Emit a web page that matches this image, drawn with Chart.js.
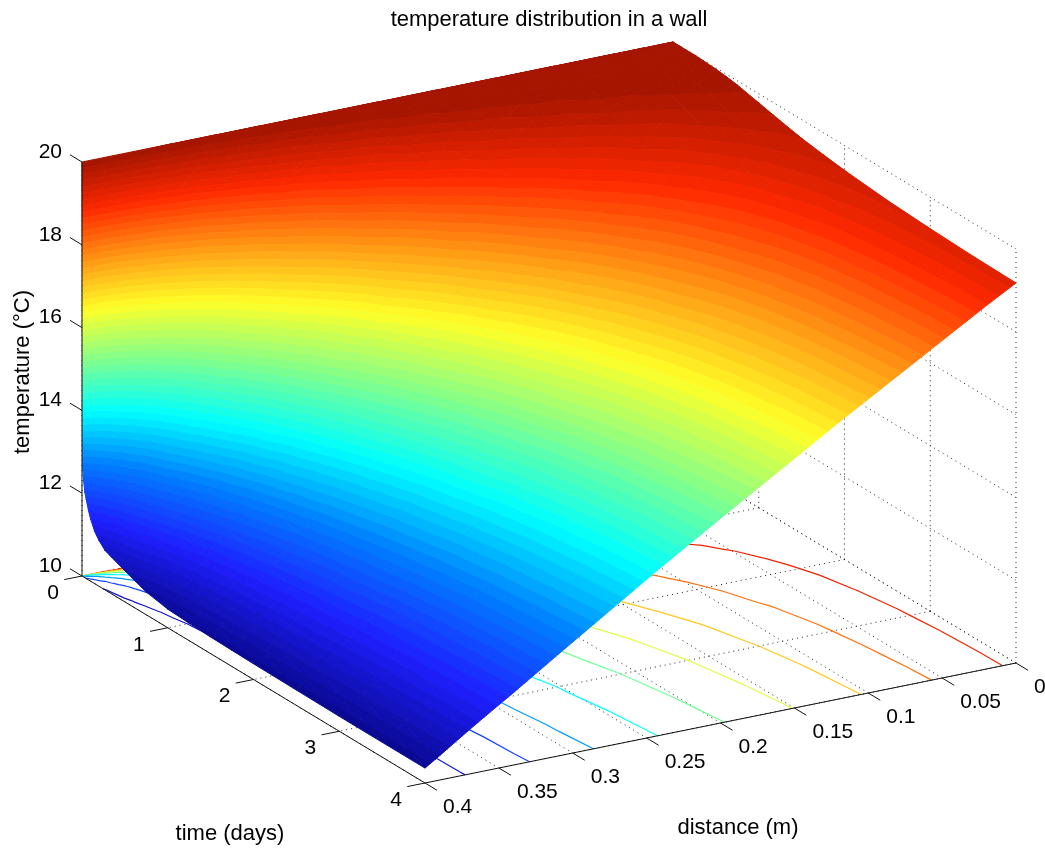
<!DOCTYPE html>
<html>
<head>
<meta charset="utf-8">
<title>temperature distribution in a wall</title>
<script src="https://cdn.jsdelivr.net/npm/chart.js@4/dist/chart.umd.js"></script>
<style>
  html, body { margin: 0; padding: 0; background: #fff; }
  canvas { display: block; }
</style>
</head>
<body>
<canvas id="wall-chart" width="1045" height="848"></canvas>
<script>
// Values
const distances = [0, 0.02, 0.04, 0.08, 0.12, 0.16, 0.2, 0.24, 0.28, 0.31, 0.34, 0.36, 0.375, 0.385, 0.393, 0.4];
const times = [0, 0.005, 0.01, 0.02, 0.035, 0.05, 0.075, 0.1, 0.15, 0.2, 0.27, 0.35, 0.5, 0.625, 0.75, 1, 1.25, 1.5, 1.75, 2, 2.5, 3, 3.5, 4];

// One row per time, one column per distance
const temperatures = [
    [20, 20, 20, 20, 20, 20, 20, 20, 20, 20, 20, 20, 20, 20, 20, 20],
    [20, 20, 20, 20, 20, 20, 20, 20, 20, 20, 20, 19.99, 19.64, 18.33, 16.0, 13.2],
    [20, 20, 20, 20, 20, 20, 20, 20, 20, 20, 19.99, 19.79, 18.73, 16.96, 14.81, 12.6],
    [20, 20, 20, 20, 20, 20, 20, 20, 20, 20, 19.85, 19.07, 17.44, 15.68, 13.95, 12.3],
    [20, 20, 20, 20, 20, 20, 20, 20, 20, 19.93, 19.37, 18.08, 16.31, 14.75, 13.34, 12.05],
    [20, 20, 20, 20, 20, 20, 20, 20, 19.97, 19.77, 18.85, 17.33, 15.6, 14.19, 12.96, 11.9],
    [20, 20, 20, 20, 20, 20, 20, 19.99, 19.87, 19.4, 18.09, 16.47, 14.87, 13.64, 12.6, 11.68],
    [20, 20, 20, 20, 20, 20, 20, 19.95, 19.68, 18.99, 17.49, 15.88, 14.38, 13.28, 12.37, 11.5],
    [20, 20, 20, 20, 20, 19.99, 19.96, 19.79, 19.21, 18.22, 16.53, 15.0, 13.67, 12.72, 11.94, 11.25],
    [20, 20, 20, 20, 19.99, 19.97, 19.87, 19.56, 18.75, 17.61, 15.91, 14.48, 13.28, 12.44, 11.76, 11.1],
    [20, 20, 20, 19.99, 19.97, 19.9, 19.68, 19.17, 18.14, 16.89, 15.23, 13.91, 12.83, 12.09, 11.48, 10.95],
    [19.99, 19.99, 19.99, 19.97, 19.91, 19.76, 19.42, 18.74, 17.57, 16.32, 14.73, 13.53, 12.57, 11.9, 11.37, 10.88],
    [19.97, 19.96, 19.95, 19.88, 19.72, 19.42, 18.88, 18.01, 16.73, 15.5, 14.06, 13.0, 12.17, 11.6, 11.15, 10.75],
    [19.94, 19.92, 19.89, 19.75, 19.51, 19.1, 18.45, 17.5, 16.21, 15.01, 13.67, 12.69, 11.94, 11.43, 11.01, 10.65],
    [19.9, 19.86, 19.79, 19.59, 19.27, 18.78, 18.06, 17.06, 15.77, 14.62, 13.34, 12.44, 11.74, 11.26, 10.88, 10.55],
    [19.78, 19.7, 19.58, 19.26, 18.81, 18.2, 17.39, 16.37, 15.12, 14.06, 12.91, 12.11, 11.49, 11.08, 10.74, 10.45],
    [19.66, 19.53, 19.36, 18.93, 18.4, 17.72, 16.87, 15.85, 14.67, 13.69, 12.64, 11.91, 11.35, 10.99, 10.68, 10.42],
    [19.55, 19.38, 19.16, 18.65, 18.05, 17.31, 16.45, 15.46, 14.33, 13.4, 12.43, 11.76, 11.26, 10.92, 10.64, 10.4],
    [19.47, 19.26, 18.99, 18.42, 17.75, 17.0, 16.13, 15.14, 14.06, 13.2, 12.28, 11.65, 11.19, 10.87, 10.61, 10.39],
    [19.4, 19.15, 18.86, 18.22, 17.52, 16.73, 15.86, 14.9, 13.85, 13.02, 12.16, 11.57, 11.13, 10.83, 10.59, 10.38],
    [19.3, 18.99, 18.64, 17.92, 17.15, 16.34, 15.47, 14.53, 13.55, 12.78, 11.98, 11.45, 11.05, 10.78, 10.56, 10.37],
    [19.24, 18.89, 18.51, 17.73, 16.92, 16.08, 15.21, 14.3, 13.35, 12.62, 11.87, 11.38, 11.0, 10.74, 10.53, 10.36],
    [19.2, 18.82, 18.42, 17.61, 16.77, 15.92, 15.05, 14.15, 13.23, 12.52, 11.8, 11.33, 10.97, 10.72, 10.53, 10.36],
    [19.18, 18.78, 18.36, 17.52, 16.68, 15.81, 14.94, 14.06, 13.14, 12.45, 11.75, 11.3, 10.95, 10.71, 10.52, 10.36]
];

// Axis ticks and the levels of the contour lines on the floor
const timeTicks = [0, 1, 2, 3, 4];
const distanceTicks = [0, 0.05, 0.1, 0.15, 0.2, 0.25, 0.3, 0.35, 0.4];
const distanceTickLabels = ['0', '0.05', '0.1', '0.15', '0.2', '0.25', '0.3', '0.35', '0.4'];
const tempTicks = [10, 12, 14, 16, 18, 20];
const contourLevels = [11, 12, 13, 14, 15, 16, 17, 18, 19];

const titleText = 'temperature distribution in a wall';
const timeLabel = 'time (days)';
const distanceLabel = 'distance (m)';
const tempLabel = 'temperature (\u00b0C)';

// Colour limits and number of colours of the colormap
const colorMin = 10.3;
const colorMax = 20;
const colorCount = 64;

// Colormap as it looks in the picture, evenly spaced from low to high
const colorStops = [
    [8, 8, 140], [30, 30, 255], [0, 125, 255], [0, 255, 255], [130, 255, 140],
    [255, 255, 40], [255, 150, 20], [255, 40, 0], [160, 20, 0]
];

const floorTemp = 10;
const maxTime = 4;
const maxDistance = 0.4;

// Fixed view of the box: time runs down to the right, distance runs down to the left
function project(time, distance, temp) {
    const u = time / maxTime;
    const v = distance / maxDistance;
    return {
        x: 673 + 343 * u - 591 * v,
        y: 456 + 207 * u + 120 * v - 41.4 * (temp - floorTemp)
    };
}

function colormap(f) {
    const pos = Math.max(0, Math.min(1, f)) * (colorStops.length - 1);
    const i = Math.min(Math.floor(pos), colorStops.length - 2);
    const k = pos - i;
    const part = (c) => Math.round(colorStops[i][c] + (colorStops[i + 1][c] - colorStops[i][c]) * k);
    return `rgb(${part(0)}, ${part(1)}, ${part(2)})`;
}

function levelColor(index) {
    return colormap((index + 0.5) / colorCount);
}

// Corners of a mesh cell, split in two triangles
function meshTriangles() {
    const triangles = [];
    for (let i = 0; i < times.length - 1; i++) {
        for (let j = 0; j < distances.length - 1; j++) {
            const corner = (a, b) => {
                const p = project(times[a], distances[b], temperatures[a][b]);
                return { x: p.x, y: p.y, temp: temperatures[a][b], floor: project(times[a], distances[b], floorTemp) };
            };
            const p00 = corner(i, j);
            const p01 = corner(i, j + 1);
            const p10 = corner(i + 1, j);
            const p11 = corner(i + 1, j + 1);
            triangles.push([p00, p01, p11], [p00, p11, p10]);
        }
    }
    return triangles;
}

function mix(a, b, level) {
    const k = (level - a.temp) / (b.temp - a.temp);
    return {
        x: a.x + (b.x - a.x) * k,
        y: a.y + (b.y - a.y) * k,
        temp: level,
        floor: {
            x: a.floor.x + (b.floor.x - a.floor.x) * k,
            y: a.floor.y + (b.floor.y - a.floor.y) * k
        }
    };
}

// Keep the part of a polygon on one side of a temperature level
function clipPolygon(polygon, level, keepAbove) {
    const inside = (p) => keepAbove ? p.temp >= level : p.temp <= level;
    const result = [];
    polygon.forEach((p, i) => {
        const next = polygon[(i + 1) % polygon.length];
        if (inside(p)) result.push(p);
        if (inside(p) !== inside(next)) result.push(mix(p, next, level));
    });
    return result;
}

// Filled colour bands of the surface, one dataset for each colour
function surfaceDatasets(triangles) {
    const step = (colorMax - colorMin) / colorCount;
    const bands = [];
    for (let index = 0; index < colorCount; index++) {
        const low = index === 0 ? -Infinity : colorMin + index * step;
        const high = index === colorCount - 1 ? Infinity : colorMin + (index + 1) * step;
        const data = [];
        triangles.forEach((triangle) => {
            let polygon = clipPolygon(triangle, low, true);
            if (polygon.length) polygon = clipPolygon(polygon, high, false);
            if (polygon.length < 3) return;
            polygon.forEach((p) => data.push({ x: p.x, y: p.y }));
            data.push({ x: polygon[0].x, y: polygon[0].y });
            data.push({ x: null, y: null });
        });
        bands.push({
            data: data,
            showLine: true,
            fill: 'shape',
            backgroundColor: levelColor(index),
            borderColor: levelColor(index),
            borderWidth: 1,
            borderDash: [10000, 0],
            pointRadius: 0,
            order: 1
        });
    }
    return bands;
}

// Contour lines drawn on the floor of the box
function contourDatasets(triangles) {
    return contourLevels.map((level) => {
        const data = [];
        triangles.forEach((triangle) => {
            const crossings = [];
            triangle.forEach((p, i) => {
                const next = triangle[(i + 1) % 3];
                if ((p.temp < level) !== (next.temp < level)) crossings.push(mix(p, next, level).floor);
            });
            if (crossings.length === 2) data.push(crossings[0], crossings[1], { x: null, y: null });
        });
        const color = colormap((level - colorMin) / (colorMax - colorMin));
        return { data: data, showLine: true, fill: false, borderColor: color, borderWidth: 1.2, pointRadius: 0, order: 2 };
    });
}

// Helper for a set of separate straight lines
function linesDataset(lines, style) {
    const data = [];
    lines.forEach((line) => data.push(line[0], line[1], { x: null, y: null }));
    return Object.assign({ data: data, showLine: true, fill: false, pointRadius: 0 }, style);
}

function gridDataset() {
    const lines = [];
    timeTicks.forEach((t) => {
        lines.push([project(t, 0, floorTemp), project(t, maxDistance, floorTemp)]);
        lines.push([project(t, 0, floorTemp), project(t, 0, 20)]);
    });
    distanceTicks.forEach((d) => {
        lines.push([project(0, d, floorTemp), project(maxTime, d, floorTemp)]);
        lines.push([project(0, d, floorTemp), project(0, d, 20)]);
    });
    tempTicks.forEach((z) => {
        lines.push([project(0, 0, z), project(maxTime, 0, z)]);
        lines.push([project(0, 0, z), project(0, maxDistance, z)]);
    });
    return linesDataset(lines, { borderColor: '#222', borderWidth: 1, borderDash: [1, 4], order: 3 });
}

function axesDataset() {
    const lines = [
        [project(0, maxDistance, floorTemp), project(0, maxDistance, 20)],
        [project(0, maxDistance, floorTemp), project(maxTime, maxDistance, floorTemp)],
        [project(maxTime, maxDistance, floorTemp), project(maxTime, 0, floorTemp)]
    ];
    timeTicks.forEach((t) => lines.push([project(t, maxDistance, floorTemp), project(t, maxDistance * 1.03, floorTemp)]));
    distanceTicks.forEach((d) => lines.push([project(maxTime, d, floorTemp), project(maxTime * 1.035, d, floorTemp)]));
    tempTicks.forEach((z) => lines.push([project(0, maxDistance, z), project(-maxTime * 0.035, maxDistance, z)]));
    return linesDataset(lines, { borderColor: '#111', borderWidth: 1, order: 0 });
}

// Tick labels and axis labels of the box
const boxLabels = {
    id: 'boxLabels',
    afterDraw(chart) {
        const ctx = chart.ctx;
        const px = (p) => chart.scales.x.getPixelForValue(p.x);
        const py = (p) => chart.scales.y.getPixelForValue(p.y);
        ctx.save();
        ctx.fillStyle = '#000';
        ctx.textBaseline = 'middle';
        ctx.font = '21px "Liberation Sans"';

        ctx.textAlign = 'right';
        tempTicks.forEach((z) => {
            const p = project(0, maxDistance, z);
            ctx.fillText(String(z), px(p) - 20, py(p) - 10);
        });

        ctx.textAlign = 'center';
        timeTicks.forEach((t) => {
            const p = project(t, maxDistance, floorTemp);
            ctx.fillText(String(t), px(p) - 29, py(p) + 17);
        });

        ctx.textAlign = 'left';
        distanceTicks.forEach((d, i) => {
            const p = project(maxTime, d, floorTemp);
            ctx.fillText(distanceTickLabels[i], px(p) + 18, py(p) + 24);
        });

        ctx.textAlign = 'center';
        ctx.font = '22px "Liberation Sans"';
        ctx.fillText(timeLabel, 230, 834);
        ctx.fillText(distanceLabel, 738, 828);
        ctx.translate(23, 372);
        ctx.rotate(-Math.PI / 2);
        ctx.fillText(tempLabel, 0, 0);
        ctx.restore();
    }
};

Chart.defaults.font.family = '"Liberation Sans", Arial, sans-serif';

const triangles = meshTriangles();
const wallCanvas = document.getElementById('wall-chart');

const wallChart = new Chart(wallCanvas.getContext('2d'), {
    type: 'scatter',
    data: {
        datasets: [axesDataset()].concat(surfaceDatasets(triangles), contourDatasets(triangles), [gridDataset()])
    },
    options: {
        responsive: false,
        animation: false,
        layout: { padding: { left: 53 } },
        plugins: {
            legend: { display: false },
            tooltip: { enabled: false },
            title: {
                display: true,
                text: titleText,
                color: '#000',
                font: { size: 22, weight: 'normal', lineHeight: 1 },
                padding: { top: 9, bottom: 9 }
            }
        },
        scales: {
            x: { type: 'linear', min: 53, max: 1045, display: false },
            y: { type: 'linear', min: 40, max: 848, reverse: true, display: false }
        }
    },
    plugins: [boxLabels]
});
</script>
</body>
</html>
